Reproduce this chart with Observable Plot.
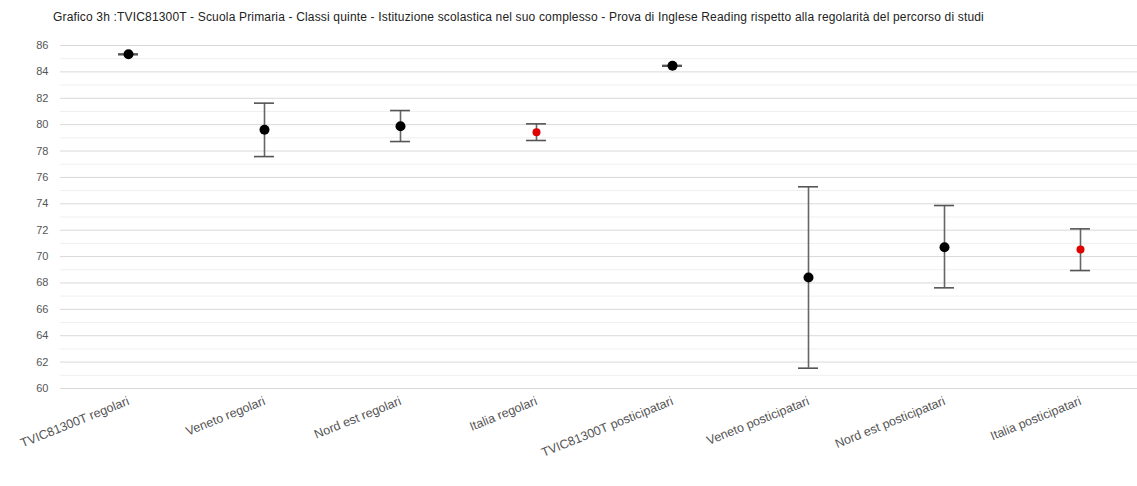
<!DOCTYPE html>
<html>
<head>
<meta charset="utf-8">
<script src="https://cdn.jsdelivr.net/npm/d3@7"></script>
<script src="https://cdn.jsdelivr.net/npm/@observablehq/plot@0.6"></script>
<style>
  html, body { margin: 0; padding: 0; background: #fff; }
  #title { height: 30px; box-sizing: border-box; padding: 10px 0 0 53px; font: 12px "Liberation Sans", Arial, sans-serif; letter-spacing: 0.17px; color: #222; white-space: nowrap; }
  #chart svg { display: block; }
</style>
</head>
<body>
<div id="title">Grafico 3h :TVIC81300T - Scuola Primaria - Classi quinte - Istituzione scolastica nel suo complesso - Prova di Inglese Reading rispetto alla regolarità del percorso di studi</div>
<div id="chart"></div>
<script>
const categories = [
  "TVIC81300T regolari", "Veneto regolari", "Nord est regolari", "Italia regolari",
  "TVIC81300T posticipatari", "Veneto posticipatari", "Nord est posticipatari", "Italia posticipatari"
];
const means = [85.33, 79.61, 79.88, 79.43, 84.46, 68.41, 70.71, 70.53];
const lows  = [85.30, 77.58, 78.72, 78.80, 84.43, 61.54, 67.63, 68.94];
const highs = [85.36, 81.63, 81.07, 80.06, 84.49, 75.29, 73.87, 72.10];
const yTicks = d3.range(60, 87, 2);
const yMinor = d3.range(61, 86, 2);

const data = categories.map((c, i) => ({cat: c, mean: means[i], lo: lows[i], hi: highs[i], italia: c.startsWith("Italia")}));

const chart = Plot.plot({
  width: 1137,
  height: 456,
  marginTop: 15,
  marginBottom: 98,
  marginLeft: 60,
  marginRight: 0,
  style: {fontFamily: "'Liberation Sans', Arial, sans-serif", color: "#555", background: "#fff"},
  x: {domain: categories, range: [60, 1148], padding: 0, label: null},
  y: {domain: [60, 86], label: null},
  marks: [
    Plot.ruleY(yMinor, {stroke: "#efefef", strokeWidth: 1}),
    Plot.ruleY(yTicks, {stroke: "#d9d9d9", strokeWidth: 1}),
    Plot.axisY({ticks: yTicks, tickSize: 0, tickPadding: 12, fontSize: 11, label: null}),
    Plot.axisX({tickSize: 0, tickRotate: -22, tickPadding: 12, fontSize: 12.5, label: null}),
    Plot.ruleX(data, {x: "cat", y1: "lo", y2: "hi", stroke: "#666", strokeWidth: 1.6}),
    Plot.tickY(data, {x: "cat", y: "lo", stroke: "#555", strokeWidth: 1.6, insetLeft: 58, insetRight: 58}),
    Plot.tickY(data, {x: "cat", y: "hi", stroke: "#555", strokeWidth: 1.6, insetLeft: 58, insetRight: 58}),
    Plot.dot(data.filter(d => !d.italia), {x: "cat", y: "mean", r: 5, fill: "black"}),
    Plot.dot(data.filter(d => d.italia), {x: "cat", y: "mean", r: 4, fill: "#e00000"})
  ]
});
document.getElementById("chart").append(chart);
</script>
</body>
</html>
